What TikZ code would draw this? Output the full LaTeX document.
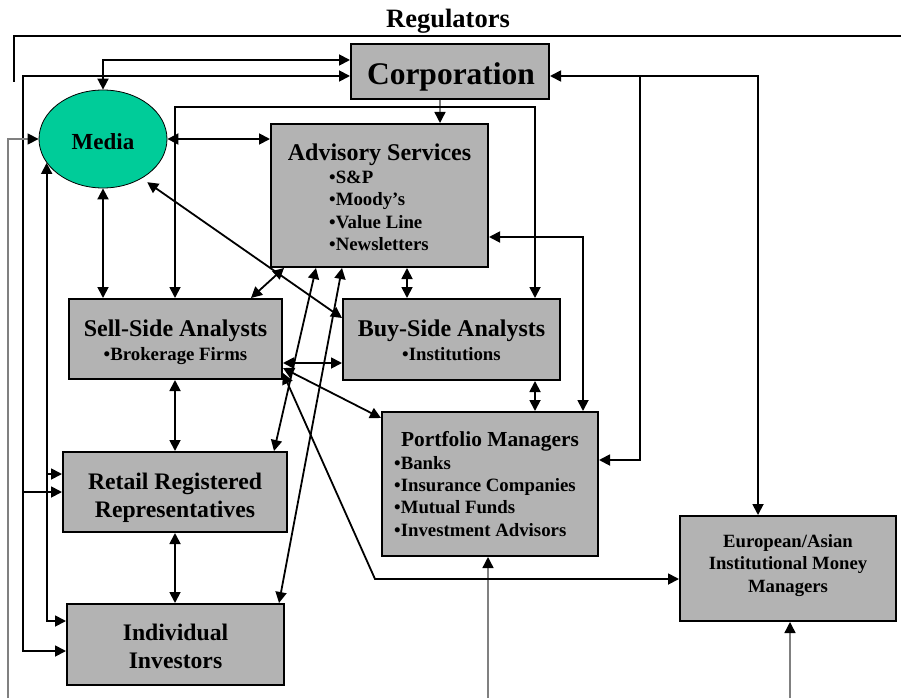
\documentclass[tikz,border=0pt]{standalone}
\usepackage{fontspec}
\setmainfont{Liberation Serif}
\usetikzlibrary{arrows.meta,shapes.geometric}
\definecolor{boxgray}{RGB}{179,179,179}
\definecolor{mediagreen}{RGB}{0,204,153}
\definecolor{linegray}{RGB}{128,128,128}
\newcommand{\myfs}[1]{\fontsize{#1}{#1}\selectfont\bfseries}
\begin{document}
\begin{tikzpicture}[x=1pt,y=-1pt,
  box/.style={draw=black, line width=2pt, fill=boxgray, inner sep=0pt, rectangle},
  conn/.style={line width=1.8pt, draw=black},
  >={Triangle[length=11pt,width=11pt]},
  gconn/.style={line width=1.4pt, draw=linegray, -{Triangle[length=11pt,width=11pt,color=black]}},
  txt/.style={inner sep=0pt, anchor=base},
  btxt/.style={inner sep=0pt, anchor=base west}]
\useasboundingbox (0,0) rectangle (901,698);
% boxes
\node[box, minimum width=198pt, minimum height=55pt] (corp) at (450,71.5) {};
\node[box, minimum width=217pt, minimum height=143pt] (adv) at (379.5,195.5) {};
\node[box, minimum width=213pt, minimum height=80pt] (sell) at (175.5,339) {};
\node[box, minimum width=217pt, minimum height=81pt] (buy) at (451.5,339.5) {};
\node[box, minimum width=216pt, minimum height=144pt] (port) at (490,484) {};
\node[box, minimum width=224pt, minimum height=80pt] (retail) at (175,492) {};
\node[box, minimum width=217pt, minimum height=81pt] (indiv) at (175.5,644.5) {};
\node[box, minimum width=216pt, minimum height=105pt] (euro) at (788,568.5) {};
\node[ellipse, draw=black, line width=0.8pt, fill=mediagreen, minimum width=128pt, minimum height=98pt, inner sep=0pt] (media) at (103,139) {};
% regulators bracket
\coordinate (regL) at (14,82);
\coordinate (regC) at (14,36);
\coordinate (regR) at (901,36);
\draw[conn] (regL) -- (regC) -- (regR);
% connectors
\draw[conn,<->] (media.north) |- (corp.west |- 0,60);
\draw[conn,<->] (corp.west |- 0,76) -- (23,76) -- (23,651) -- (indiv.west |- 0,651);
\draw[conn,->] (23,492) -- (retail.west |- 0,492);
\draw[conn,<->] (media.203) -- (media.203 |- 0,621) -- (indiv.west |- 0,621);
\draw[conn,->] (media.203 |- 0,474) -- (retail.west |- 0,474);
\draw[gconn] (8,698) -- (8,0 |- media.west) -- (media.west);
\draw[gconn] (440,0 |- corp.south) -- (440,0 |- adv.north);
\draw[gconn] (488,698) -- (488,0 |- port.south);
\draw[gconn] (790,698) -- (790,0 |- euro.south);
\draw[conn,<->] (media.east) -- (adv.west |- media.east);
\draw[conn,<->] (media.south) -- (media.south |- sell.north);
\draw[conn,<->] (175,0 |- sell.north) -- (175,107) -- (535,107) -- (535,0 |- buy.north);
\draw[conn,<->] (407,0 |- adv.south) -- (407,0 |- buy.north);
\draw[conn,<->] (535,0 |- buy.south) -- (535,0 |- port.north);
\draw[conn,<->] (adv.east |- 0,237) -- (583,237) -- (583,0 |- port.north);
\draw[conn,<->] (corp.east |- 0,76) -- (758,76) -- (758,0 |- euro.north);
\draw[conn,->] (640,76) -- (640,460) -- (port.east |- 0,460);
\draw[conn,<->] (sell.east |- 0,363) -- (buy.west |- 0,363);
\draw[conn,<->] (175,0 |- sell.south) -- (175,0 |- retail.north);
\draw[conn,<->] (175,0 |- retail.south) -- (175,0 |- indiv.north);
\draw[conn,<->] ([xshift=-32pt]sell.north east) -- ([xshift=14pt]adv.south west);
\draw[conn,<->] ([shift={(5,4)}]media.-45) -- (buy.west |- 0,318);
\draw[conn,<->] ([xshift=46pt]adv.south west) -- ([xshift=-14pt]retail.north east);
\draw[conn,<->] ([xshift=72pt]adv.south west) -- ([xshift=-6pt]indiv.north east);
\draw[conn,<->] (sell.east |- 0,368) -- (port.west |- 0,418);
\draw[conn,<->] (sell.east |- 0,373) -- (375,579) -- (euro.west |- 0,579);
% texts
\node[txt] (regT) at (448,28) {\myfs{26.5}Regulators};
\node[txt] (corpT) at (451,85) {\myfs{31.5}Corporation};
\node[txt] (mediaT) at (103,149) {\myfs{23}Media};
\node[txt] (advT) at (379.5,160) {\myfs{24}Advisory Services};
\node[btxt] (adv1) at (329,183.5) {\myfs{18.8}•S\&P};
\node[btxt] (adv2) at (329,205.5) {\myfs{18.8}•Moody’s};
\node[btxt] (adv3) at (329,228) {\myfs{18.8}•Value Line};
\node[btxt] (adv4) at (329,250) {\myfs{18.8}•Newsletters};
\node[txt] (sellT) at (175.5,336) {\myfs{24}Sell-Side Analysts};
\node[txt] (sell1) at (175.5,360) {\myfs{18.8}•Brokerage Firms};
\node[txt] (buyT) at (451.5,336) {\myfs{24}Buy-Side Analysts};
\node[txt] (buy1) at (451.5,360) {\myfs{18.8}•Institutions};
\node[txt] (portT) at (490,446) {\myfs{21.4}Portfolio Managers};
\node[btxt] (port1) at (394,469.5) {\myfs{18.8}•Banks};
\node[btxt] (port2) at (394,491.5) {\myfs{18.8}•Insurance Companies};
\node[btxt] (port3) at (394,513.5) {\myfs{18.8}•Mutual Funds};
\node[btxt] (port4) at (394,536) {\myfs{18.8}•Investment Advisors};
\node[txt] (retT1) at (175,489) {\myfs{23.7}Retail Registered};
\node[txt] (retT2) at (175,517) {\myfs{23.7}Representatives};
\node[txt] (indT1) at (175.5,640) {\myfs{23.7}Individual};
\node[txt] (indT2) at (175.5,668) {\myfs{23.7}Investors};
\node[txt] (euT1) at (788,547) {\myfs{18.7}European/Asian};
\node[txt] (euT2) at (788,569.5) {\myfs{18.7}Institutional Money};
\node[txt] (euT3) at (788,592) {\myfs{18.7}Managers};
\end{tikzpicture}
\end{document}
